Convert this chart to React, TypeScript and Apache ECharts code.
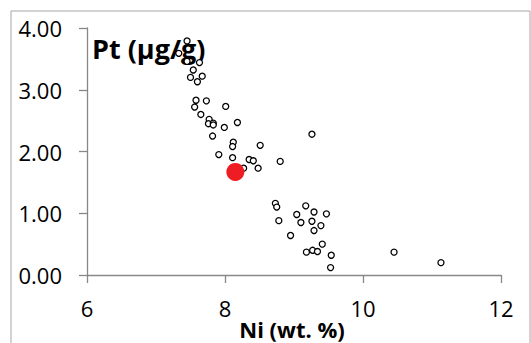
import React, { useEffect, useRef } from "react";
import * as echarts from "echarts";

const niValues = [
  7.45, 7.33, 7.45, 7.63, 7.54, 7.5, 7.67, 7.6, 7.58, 7.73, 7.56, 8.01, 7.65,
  7.77, 7.76, 7.83, 7.83, 8.18, 7.99, 7.82, 8.12, 8.11, 8.51, 7.91, 8.11, 8.35,
  8.41, 8.27, 8.48, 9.26, 8.8, 8.73, 8.75, 9.17, 9.04, 9.29, 9.47, 8.78, 9.1,
  9.26, 9.39, 9.29, 8.95, 9.41, 9.18, 9.27, 9.34, 9.54, 9.53, 10.45, 11.13,
];
const ptValues = [
  3.79, 3.59, 3.46, 3.44, 3.32, 3.2, 3.22, 3.13, 2.83, 2.82, 2.72, 2.73, 2.6,
  2.52, 2.45, 2.46, 2.43, 2.47, 2.39, 2.25, 2.15, 2.08, 2.1, 1.95, 1.9, 1.87,
  1.85, 1.73, 1.73, 2.28, 1.84, 1.16, 1.1, 1.12, 0.98, 1.02, 0.99, 0.88, 0.85,
  0.87, 0.8, 0.72, 0.64, 0.5, 0.37, 0.4, 0.38, 0.32, 0.12, 0.37, 0.2,
];
const highlightNi = [8.15];
const highlightPt = [1.67];

const xTicks = [6, 8, 10, 12];
const yTicks = [0, 1, 2, 3, 4];

const yTitle = "Pt (µg/g)";
const xTitle = "Ni (wt. %)";

export default function App() {
  const ref = useRef<HTMLDivElement>(null);
  useEffect(() => {
    if (!ref.current) return;
    const chart = echarts.init(ref.current, undefined, { renderer: "svg" });
    const axisColor = "#888888";
    const font = "'Open Sans', sans-serif";
    chart.setOption({
      animation: false,
      backgroundColor: "#ffffff",
      grid: { left: 87, top: 28, right: 30, bottom: 68, containLabel: false },
      xAxis: {
        type: "value",
        min: xTicks[0],
        max: xTicks[xTicks.length - 1],
        interval: 2,
        splitLine: { show: false },
        axisLine: { show: true, lineStyle: { color: axisColor, width: 1.3 } },
        axisTick: { show: true, length: 8, lineStyle: { color: axisColor, width: 1.3 } },
        axisLabel: { color: "#000", fontSize: 22, fontFamily: font, margin: 22 },
      },
      yAxis: {
        type: "value",
        min: yTicks[0],
        max: yTicks[yTicks.length - 1],
        interval: 1,
        splitLine: { show: false },
        axisLine: { show: true, lineStyle: { color: axisColor, width: 1.3 } },
        axisTick: { show: true, length: 8, lineStyle: { color: axisColor, width: 1.3 } },
        axisLabel: {
          color: "#000",
          fontSize: 22,
          fontFamily: font,
          margin: 25,
          formatter: (v: number) => v.toFixed(2),
        },
      },
      graphic: [
        {
          type: "rect",
          shape: { x: 11, y: 11, width: 519, height: 345 },
          style: { fill: "none", stroke: "#a6a6a6", lineWidth: 1 },
          silent: true,
          z: -10,
        },
        {
          type: "text",
          x: 92,
          y: 48,
          style: {
            text: yTitle,
            fontSize: 27,
            fontWeight: "bold",
            fontFamily: font,
            fill: "#000",
            textAlign: "left",
            textVerticalAlign: "middle",
          },
          z: 0,
        },
        {
          type: "text",
          x: 292,
          y: 329,
          style: {
            text: xTitle,
            fontSize: 22,
            fontWeight: "bold",
            fontFamily: font,
            fill: "#000",
            textAlign: "center",
            textVerticalAlign: "middle",
          },
        },
      ],
      series: [
        {
          type: "scatter",
          data: niValues.map((x, i) => [x, ptValues[i]]),
          symbol: "circle",
          symbolSize: 6,
          itemStyle: { color: "#ffffff", borderColor: "#000000", borderWidth: 1.3, opacity: 1 },
          z: 5,
        },
        {
          type: "scatter",
          data: highlightNi.map((x, i) => [x, highlightPt[i]]),
          symbol: "circle",
          symbolSize: 18,
          itemStyle: { color: "#ee1d23", opacity: 1 },
          z: 6,
        },
      ],
    });
    return () => chart.dispose();
  }, []);
  return (
    <div
      ref={ref}
      style={{ position: "fixed", left: 0, top: 0, width: 531, height: 343 }}
    />
  );
}
